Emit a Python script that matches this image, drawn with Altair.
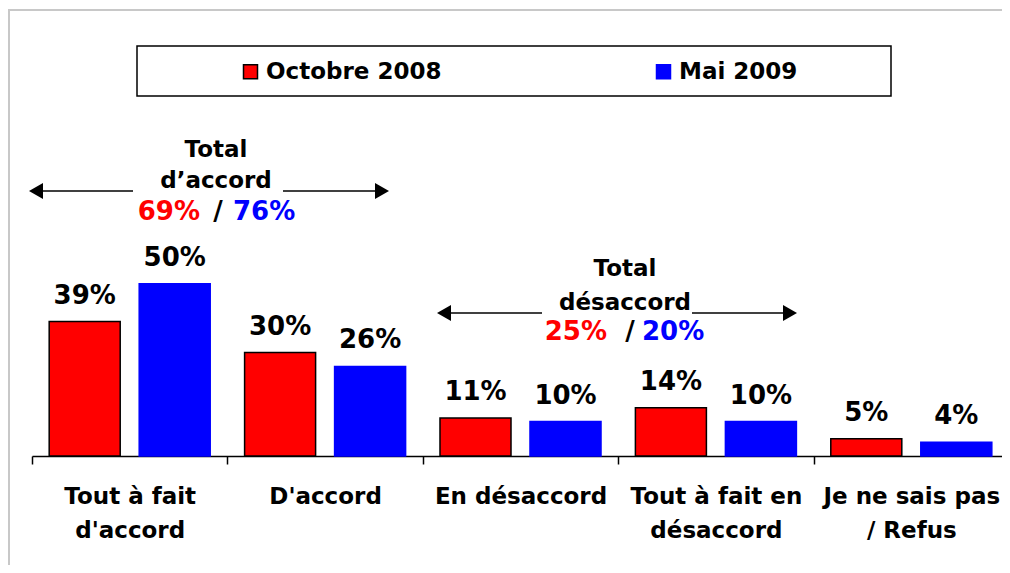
import altair as alt
import pandas as pd

# ---- data ----
categories = ["Tout à fait|d'accord", "D'accord", "En désaccord",
              "Tout à fait en|désaccord", "Je ne sais pas|/ Refus"]
series = ["Octobre 2008", "Mai 2009"]
oct_values = [39, 30, 11, 14, 5]
mai_values = [50, 26, 10, 10, 4]
colors = ["#FF0000", "#0000FF"]
strokes = ["#000000", "#0000FF"]

total_accord = ["69%", "76%"]
total_desaccord = ["25%", "20%"]

rows = []
for c, v in zip(categories, oct_values):
    rows.append({"category": c, "series": series[0], "value": v, "label": f"{v}%"})
for c, v in zip(categories, mai_values):
    rows.append({"category": c, "series": series[1], "value": v, "label": f"{v}%"})
df = pd.DataFrame(rows)

FONT = "DejaVu Sans"

x_enc = alt.X("category:N", sort=categories,
              scale=alt.Scale(paddingInner=0, paddingOuter=0),
              axis=alt.Axis(title=None, labelAngle=0, labelFont=FONT, labelFontSize=23,
                            labelFontWeight="bold", labelColor="black",
                            labelExpr="split(datum.label, '|')", labelLineHeight=34,
                            labelPadding=21, labelLimit=300,
                            domainColor="black", domainWidth=1.5,
                            tickColor="black", tickWidth=1.5, tickSize=8,
                            tickBand="extent", grid=False))
xo_enc = alt.XOffset("series:N", sort=series,
                     scale=alt.Scale(paddingInner=0.211, paddingOuter=0.191))
y_enc = alt.Y("value:Q", scale=alt.Scale(domain=[0, 130]), axis=None)

legend = alt.Legend(title=None, orient="none", legendX=207, legendY=52,
                    direction="horizontal", symbolType="square", symbolSize=196,
                    symbolStrokeWidth=1.5, labelFont=FONT, labelFontSize=23,
                    labelFontWeight="bold", labelColor="black", labelLimit=400,
                    labelOffset=4, columnPadding=210, padding=0)

color_enc = alt.Color("series:N", sort=series,
                      scale=alt.Scale(domain=series, range=colors), legend=legend)
stroke_enc = alt.Stroke("series:N", sort=series,
                        scale=alt.Scale(domain=series, range=strokes), legend=legend)

base = alt.Chart(df)

bars = base.mark_bar(strokeWidth=1.5).encode(
    x=x_enc, xOffset=xo_enc, y=y_enc, color=color_enc, stroke=stroke_enc
)

values = base.mark_text(font=FONT, fontSize=26, fontWeight="bold", color="black",
                        baseline="alphabetic", dy=-18).encode(
    x=x_enc, xOffset=xo_enc, y=y_enc, text="label:N"
)

one = pd.DataFrame({"k": [0]})


def txt(t, x, y, color="black", size=23, align="center"):
    return alt.Chart(one).mark_text(text=t, font=FONT, fontSize=size, fontWeight="bold",
                                    color=color, align=align, baseline="middle").encode(
        x=alt.value(x), y=alt.value(y))


def seg(x1, x2, y, color="black", width=1.5):
    return alt.Chart(one).mark_rule(color=color, strokeWidth=width).encode(
        x=alt.value(x1), x2=alt.value(x2), y=alt.value(y), y2=alt.value(y))


def vseg(x, y1, y2, color, width):
    return alt.Chart(one).mark_rule(color=color, strokeWidth=width).encode(
        x=alt.value(x), x2=alt.value(x), y=alt.value(y1), y2=alt.value(y2))


def head(x, y, shape):
    return alt.Chart(one).mark_point(shape=shape, filled=True, color="black",
                                     size=260, opacity=1).encode(
        x=alt.value(x), y=alt.value(y))


frame = alt.layer(
    seg(-24, 980, 2, color="#C8C8C8", width=2),
    vseg(-23, 2, 570, "#C8C8C8", 2),
)

legend_box = alt.Chart(one).mark_rect(fill="white", stroke="black", strokeWidth=1.5).encode(
    x=alt.value(105), x2=alt.value(859), y=alt.value(38), y2=alt.value(88))

ann1 = alt.layer(
    seg(6, 101, 183), seg(251, 348, 183),
    head(4, 183, "triangle-left"), head(350, 183, "triangle-right"),
    txt("Total", 184, 142), txt("d’accord", 184, 173),
    txt(total_accord[0], 168, 204, color=colors[0], size=26, align="right"),
    txt("/", 186, 204, size=26),
    txt(total_accord[1], 201, 204, color=colors[1], size=26, align="left"),
)

ann2 = alt.layer(
    seg(414, 510, 305), seg(660, 756, 305),
    head(412, 305, "triangle-left"), head(758, 305, "triangle-right"),
    txt("Total", 593, 261), txt("désaccord", 593, 295),
    txt(total_desaccord[0], 575, 324, color=colors[0], size=26, align="right"),
    txt("/", 598, 324, size=26),
    txt(total_desaccord[1], 610, 324, color=colors[1], size=26, align="left"),
)

chart = alt.layer(frame, legend_box, bars, values, ann1, ann2).properties(
    width=977, height=448,
    padding={"left": 24, "top": 0, "right": -7, "bottom": 109},
    autosize=alt.AutoSizeParams(type="none"),
    background="white",
).configure_view(stroke=None)

chart.save("out.html", embed_options={"renderer": "svg", "actions": False})
